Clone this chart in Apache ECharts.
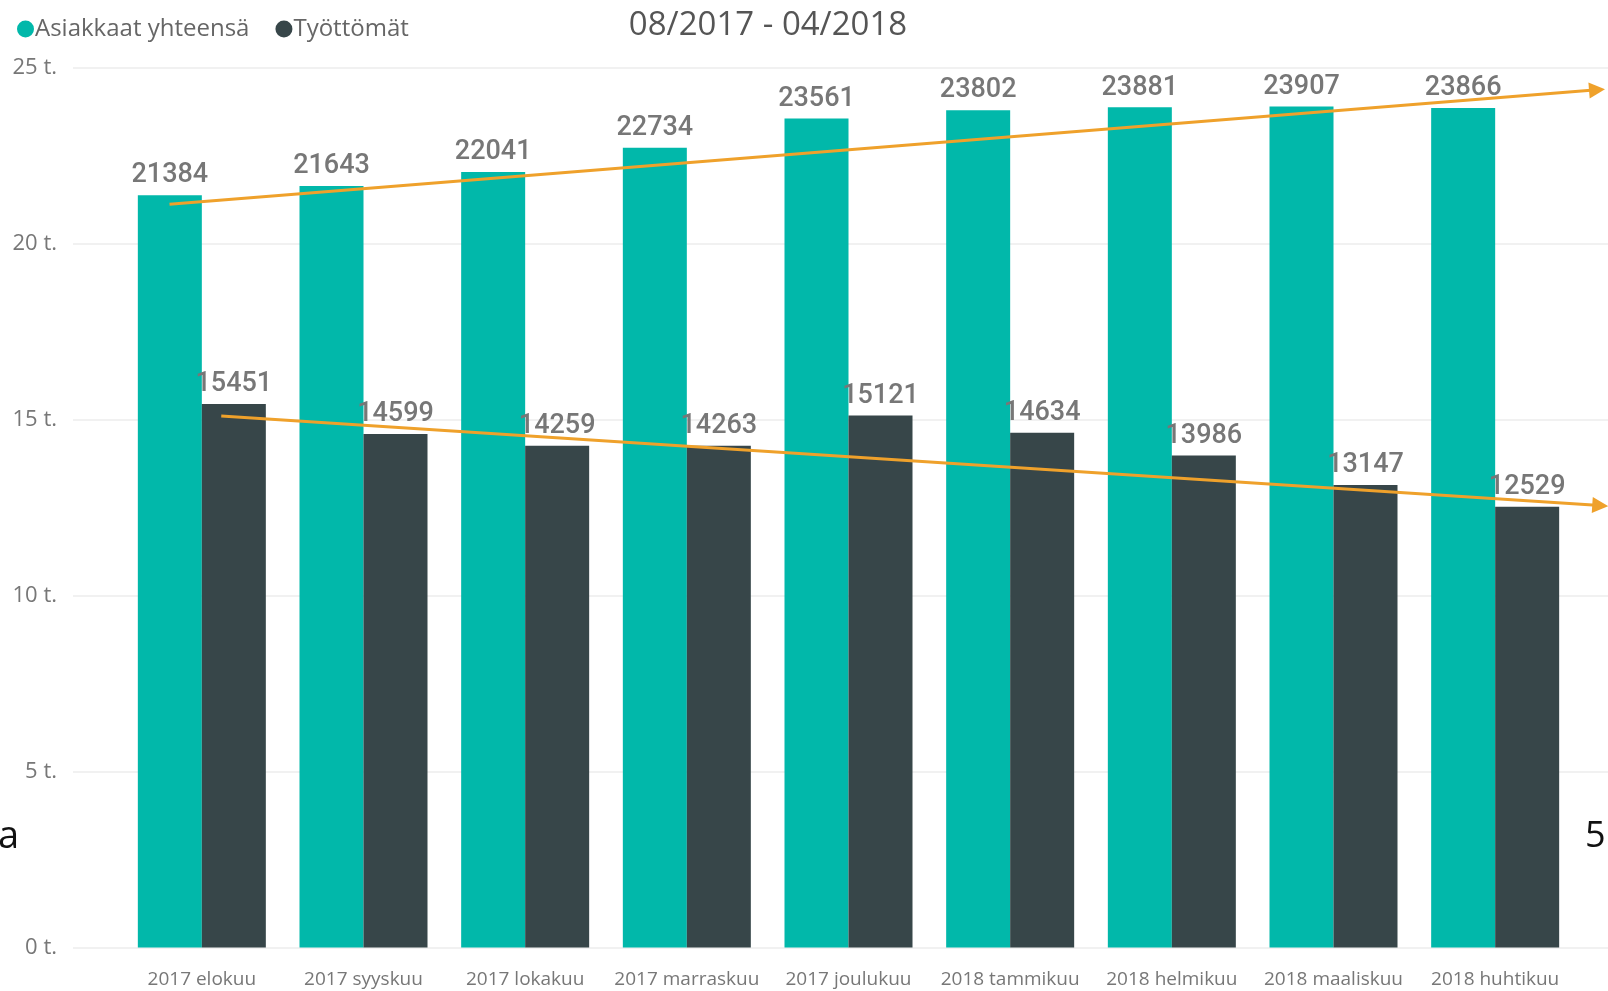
<!DOCTYPE html>
<html>
<head>
<meta charset="utf-8">
<script src="https://cdn.jsdelivr.net/npm/echarts@6/dist/echarts.min.js"></script>
<style>
  html, body { margin: 0; padding: 0; background: #fff; }
  #main { width: 1608px; height: 991px; }
</style>
</head>
<body>
<div id="main"></div>
<script>
// kuukaudet
var months = ['2017 elokuu', '2017 syyskuu', '2017 lokakuu', '2017 marraskuu', '2017 joulukuu',
  '2018 tammikuu', '2018 helmikuu', '2018 maaliskuu', '2018 huhtikuu'];
var asiakkaat = [21384, 21643, 22041, 22734, 23561, 23802, 23881, 23907, 23866];
var tyottomat = [15451, 14599, 14259, 14263, 15121, 14634, 13986, 13147, 12529];
var yTicks = [0, 5000, 10000, 15000, 20000, 25000];
// trendinuolet: [kategoria-indeksi, arvo]
var trendAsiakkaat = [[-0.2, 21130], [8.63, 24380]];
var trendTyottomat = [[0.12, 15108], [8.65, 12561]];

var myChart = echarts.init(document.getElementById('main'));

var labelStyle = {
  show: true,
  position: 'top',
  distance: 6,
  color: '#777',
  fontFamily: 'Roboto',
  fontWeight: 500,
  fontSize: 27
};

myChart.setOption({
  animation: false,
  title: {
    text: '08/2017 - 04/2018',
    left: 763,
    textAlign: 'center',
    top: 4,
    textStyle: { fontFamily: 'Open Sans', fontWeight: 'normal', fontSize: 33, color: '#555' }
  },
  legend: {
    data: ['Asiakkaat yhteensä', 'Työttömät'],
    left: 12,
    top: 12,
    icon: 'circle',
    itemWidth: 17,
    itemHeight: 17,
    itemGap: 26,
    textStyle: { fontFamily: 'Open Sans', fontSize: 24, color: '#666', padding: [0, 0, 0, -4] }
  },
  grid: [
    { left: 73, right: 0, top: 68, bottom: 43.5 },
    { left: 121, width: 1455, top: 68, bottom: 43.5 }
  ],
  xAxis: [
    { gridIndex: 0, type: 'category', data: [''], show: false },
    {
      gridIndex: 1,
      type: 'category',
      data: months,
      axisLine: { show: false },
      axisTick: { show: false },
      axisLabel: { interval: 0, color: '#777', fontFamily: 'Open Sans', fontSize: 19, margin: 23 }
    },
    { gridIndex: 1, type: 'value', min: -0.5, max: 8.5, show: false }
  ],
  yAxis: [
    {
      gridIndex: 0,
      type: 'value',
      min: yTicks[0],
      max: yTicks[yTicks.length - 1],
      interval: 5000,
      axisLine: { show: false },
      axisTick: { show: false },
      splitLine: { lineStyle: { color: '#ececec', width: 1.5 } },
      axisLabel: {
        color: '#777',
        fontFamily: 'Open Sans',
        fontSize: 22,
        margin: 16,
        padding: [4, 0, 0, 0],
        formatter: function (v) { return (v / 1000) + ' t.'; }
      }
    },
    { gridIndex: 1, type: 'value', min: 0, max: 25000, show: false }
  ],
  series: [
    {
      name: 'Asiakkaat yhteensä',
      type: 'bar',
      xAxisIndex: 1,
      yAxisIndex: 1,
      data: asiakkaat,
      barWidth: 64,
      barGap: '0%',
      itemStyle: { color: '#01B8AA' },
      label: labelStyle
    },
    {
      name: 'Työttömät',
      type: 'bar',
      xAxisIndex: 1,
      yAxisIndex: 1,
      data: tyottomat,
      barWidth: 64,
      barGap: '0%',
      itemStyle: { color: '#374649' },
      label: labelStyle
    },
    {
      type: 'lines',
      coordinateSystem: 'cartesian2d',
      xAxisIndex: 2,
      yAxisIndex: 1,
      clip: false,
      silent: true,
      symbol: ['none', 'triangle'],
      symbolSize: [16, 16],
      lineStyle: { color: '#EFA12B', width: 3, opacity: 1 },
      data: [{ coords: trendAsiakkaat }, { coords: trendTyottomat }],
      z: 5
    }
  ],
  graphic: [
    { type: 'text', left: -2, top: 818, style: { text: 'a', fontFamily: 'Open Sans', fontSize: 38, fill: '#111' } },
    { type: 'text', left: 1585, top: 819, style: { text: '5', fontFamily: 'Open Sans', fontSize: 36, fill: '#111' } }
  ]
});
</script>
</body>
</html>
